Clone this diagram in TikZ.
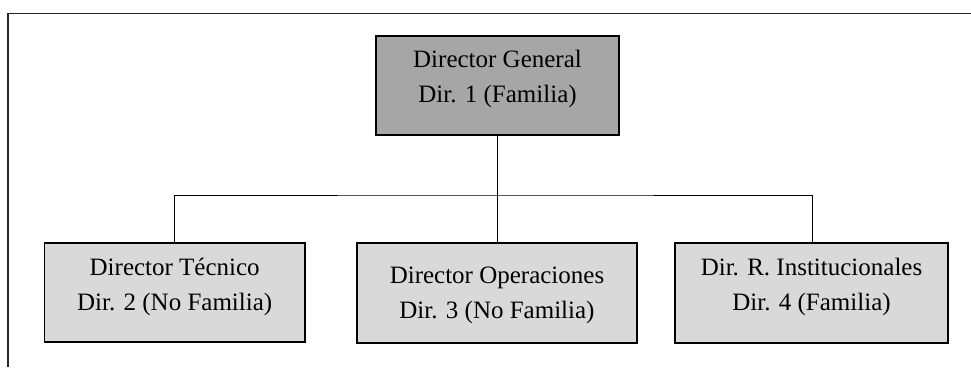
\documentclass[tikz,border=0pt]{standalone}
\usepackage{fontspec}
\setmainfont{Liberation Serif}
\begin{document}
\begin{tikzpicture}[x=1pt,y=-1pt,
  frameline/.style={line width=1.8pt,black!85},
  topbox/.style={draw=black,line width=1.3pt,fill=black!35},
  subbox/.style={draw=black,line width=1.3pt,fill=black!15},
  label/.style={anchor=base,align=center,inner sep=0pt,
    font=\fontsize{25}{34.5}\selectfont},
  link/.style={line width=1pt,black}]
\useasboundingbox (0,0) rectangle (971,367);

% open frame: left and top edges only
\draw[frameline] (8,367) -- (8,13.5) -- (971,13.5);

% boxes
\path[topbox] (376,36) rectangle (619,135);
\coordinate (dgS) at (497.5,135);
\path[subbox] (44.5,243) rectangle (305,342);
\coordinate (dtN) at (174.5,243);
\path[subbox] (357,243) rectangle (637,343);
\coordinate (doN) at (497.5,243);
\path[subbox] (675,243) rectangle (948,343);
\coordinate (drN) at (812,243);

% texts (anchored on the baseline of the second line)
\node[label] (tdg) at (497.5,102) {Director General\\Dir. 1 (Familia)};
\node[label] (tdt) at (174.7,310) {Director Técnico\\Dir. 2 (No Familia)};
\node[label] (tdo) at (497,318) {Director Operaciones\\Dir. 3 (No Familia)};
\node[label] (tdr) at (811.5,310) {Dir. R. Institucionales\\Dir. 4 (Familia)};

% connectors
\coordinate (bus) at (497.5,195);
\draw[link] (dgS) -- (doN);
\draw[link] (dtN) |- (bus) -| (drN);
\end{tikzpicture}
\end{document}
